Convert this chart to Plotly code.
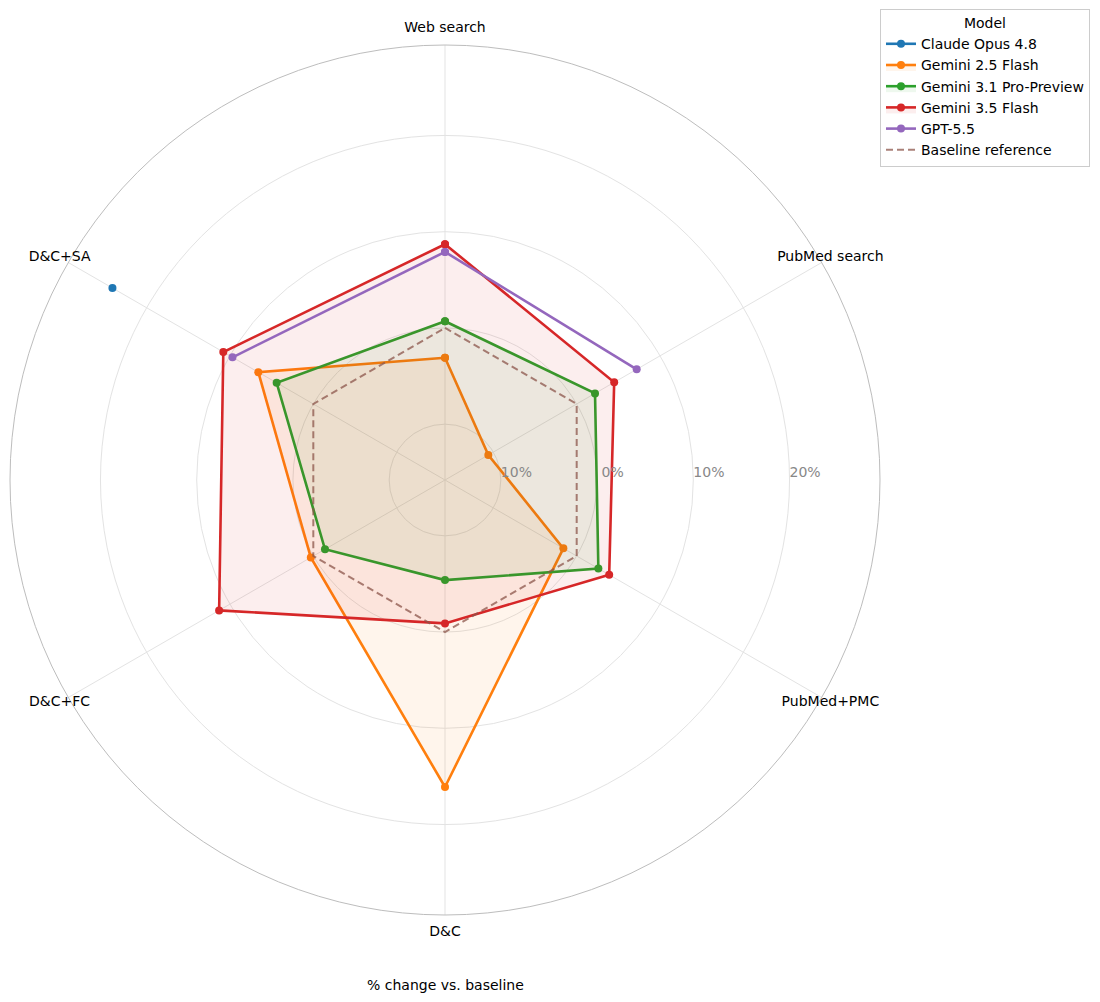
import plotly.graph_objects as go

categories = ["Web search", "PubMed search", "PubMed+PMC", "D&C", "D&C+FC", "D&C+SA"]

claude_opus_48 = [None, None, None, None, None, 24.1]
gemini_25_flash = [-3.1, -10.6, -1.6, 16.1, 0.3, 6.6]
gemini_31_pro = [0.7, 2.2, 2.6, -5.4, -1.4, 4.4]
gemini_35_flash = [8.7, 4.5, 3.9, -0.9, 11.3, 10.8]
gpt_55 = [7.9, 7.2, None, None, None, 9.7]
baseline = [0, 0, 0, 0, 0, 0]

series_names = ["Claude Opus 4.8", "Gemini 2.5 Flash", "Gemini 3.1 Pro-Preview", "Gemini 3.5 Flash", "GPT-5.5"]
series_values = [claude_opus_48, gemini_25_flash, gemini_31_pro, gemini_35_flash, gpt_55]
series_colors = ["#1f77b4", "#ff7f0e", "#2ca02c", "#d62728", "#9467bd"]

radial_ticks = [-10, 0, 10, 20]
radial_ticktext = ["10%", "0%", "10%", "20%"]

R_MIN, R_MAX = -15.8, 29.4
label_positions = ["top center", "middle center", "middle center", "bottom center", "middle center", "middle center"]


def rgba(hex_color, a):
    h = hex_color.lstrip("#")
    r, g, b = int(h[0:2], 16), int(h[2:4], 16), int(h[4:6], 16)
    return f"rgba({r},{g},{b},{a})"


fig = go.Figure()
theta_closed = categories + [categories[0]]

for name, vals, col in zip(series_names, series_values, series_colors):
    complete = all(v is not None for v in vals)
    fig.add_trace(go.Scatterpolar(
        r=vals + [vals[0]],
        theta=theta_closed,
        mode="lines+markers",
        name=name,
        line=dict(color=col, width=2.6),
        marker=dict(color=col, size=8),
        fill="toself" if complete else "none",
        fillcolor=rgba(col, 0.08),
        connectgaps=False,
    ))

fig.add_trace(go.Scatterpolar(
    r=baseline + [baseline[0]],
    theta=theta_closed,
    mode="lines",
    name="Baseline reference",
    line=dict(color="rgba(140,86,75,0.75)", width=2, dash="7px,4px"),
))

# category labels on an invisible, slightly larger overlay polar
fig.add_trace(go.Scatterpolar(
    r=[1] * len(categories),
    theta=categories,
    mode="text",
    text=categories,
    textposition=label_positions,
    textfont=dict(size=14, color="black", family="DejaVu Sans"),
    cliponaxis=False,
    showlegend=False,
    hoverinfo="skip",
    subplot="polar2",
))

pad = "\u00a0" * 7

fig.update_layout(
    width=1100,
    height=1002,
    margin=dict(l=0, r=0, t=0, b=0),
    paper_bgcolor="white",
    font=dict(family="DejaVu Sans", size=14, color="black"),
    polar=dict(
        domain=dict(x=[10 / 1100, 880 / 1100], y=[87 / 1002, 957 / 1002]),
        bgcolor="white",
        angularaxis=dict(
            direction="clockwise",
            rotation=90,
            showline=True,
            linecolor="#bdbdbd",
            linewidth=1,
            gridcolor="#e3e3e3",
            gridwidth=1,
            ticks="",
            showticklabels=False,
        ),
        radialaxis=dict(
            range=[R_MIN, R_MAX],
            angle=0,
            side="counterclockwise",
            tickvals=radial_ticks,
            ticktext=[pad + t for t in radial_ticktext],
            showline=False,
            ticks="",
            gridcolor="#e3e3e3",
            gridwidth=1,
            tickfont=dict(size=14, color="#888888"),
        ),
    ),
    polar2=dict(
        domain=dict(x=[0, 890 / 1100], y=[77 / 1002, 967 / 1002]),
        bgcolor="rgba(0,0,0,0)",
        angularaxis=dict(
            direction="clockwise",
            rotation=90,
            categoryorder="array",
            categoryarray=categories,
            showline=False,
            showgrid=False,
            ticks="",
            showticklabels=False,
        ),
        radialaxis=dict(
            range=[0, 1],
            visible=False,
            showgrid=False,
        ),
    ),
    legend=dict(
        title=dict(text="Model", side="top center", font=dict(size=14)),
        x=1090 / 1100,
        xanchor="right",
        y=1 - 9 / 1002,
        yanchor="top",
        bordercolor="#cccccc",
        borderwidth=1,
        bgcolor="white",
        font=dict(size=14),
        itemwidth=30,
        tracegroupgap=0,
    ),
    annotations=[dict(
        text="% change vs. baseline",
        x=445 / 1100, y=(1002 - 985) / 1002,
        xref="paper", yref="paper",
        showarrow=False,
        font=dict(size=14, color="black"),
        xanchor="center", yanchor="middle",
    )],
)

fig.write_html("out.html")
